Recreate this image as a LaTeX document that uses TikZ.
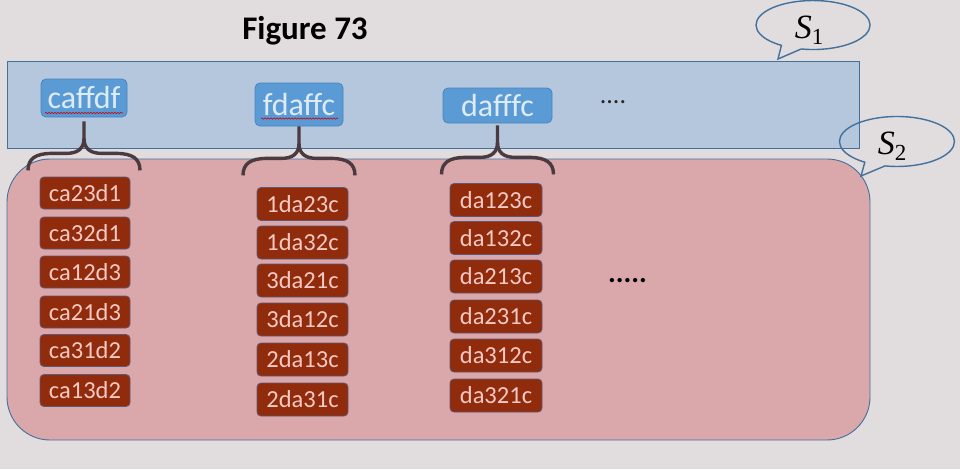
\documentclass[tikz,border=0pt]{standalone}
\usepackage{fontspec}
\setmainfont{Carlito}
\newfontfamily\labfont{Liberation Serif}
\usetikzlibrary{decorations.pathmorphing}
\definecolor{bg}{HTML}{E1DCDE}
\definecolor{setone}{HTML}{B4C7DC}
\definecolor{settwo}{HTML}{DAA8AA}
\definecolor{edgeblue}{HTML}{41719C}
\definecolor{boxblue}{HTML}{5B9BD5}
\definecolor{boxblueedge}{HTML}{4A84BD}
\definecolor{txtblue}{HTML}{DDEBF7}
\definecolor{boxred}{HTML}{902B0B}
\definecolor{boxrededge}{HTML}{5E5878}
\definecolor{txtred}{HTML}{F6C9C5}
\definecolor{bracecol}{HTML}{4B3A3F}
\newcommand{\setlab}[1]{{\labfont\fontsize{34}{38}\selectfont\itshape S\/}{\labfont\fontsize{23}{26}\selectfont\raisebox{-6pt}{#1}}}
\tikzset{
  bluebox/.style={draw=boxblueedge, line width=0.8pt, fill=boxblue, rounded corners=5pt,
    inner sep=0pt, text=txtblue, font=\fontsize{32}{36}\selectfont},
  redbox/.style={draw=boxrededge, line width=0.8pt, fill=boxred, rounded corners=4pt,
    inner sep=0pt, text=txtred, font=\fontsize{24.5}{28}\selectfont},
  spell/.style={draw=red!80!black, line width=0.6pt, decorate,
    decoration={snake, segment length=3pt, amplitude=0.7pt}},
  calloutline/.style={draw=edgeblue, line width=1.4pt},
  curly/.pic={
    \draw[bracecol, line width=3.4pt]
      (-56,49) .. controls (-56,37) and (-48,32) .. (-32,32) -- (-18,32)
      .. controls (-6,32) and (0,27) .. (0,17) -- (0,0);
    \draw[bracecol, line width=3.4pt]
      (0,17) .. controls (0,27) and (6,32) .. (18,32) -- (32,32)
      .. controls (48,32) and (56,37) .. (56,49);
  }
}
\begin{document}
\begin{tikzpicture}[x=1pt,y=-1pt]
\useasboundingbox (0,0) rectangle (960,469);
\fill[bg] (0,0) rectangle (960,469);

% title
\node[font=\fontsize{33}{38}\selectfont\bfseries, text=black] (title) at (305,31) {Figure 73};

% set S1 and S2 regions
\draw[draw=edgeblue, line width=0.9pt, fill=setone] (7,61) rectangle (859,148);
\draw[draw=edgeblue, line width=0.9pt, fill=settwo, rounded corners=43pt] (7,159) rectangle (870,440);

% blue boxes
\node[bluebox, minimum width=86pt, minimum height=38pt] (caffdf) at (84,98) {caffdf};
\node[bluebox, minimum width=88pt, minimum height=43pt] (fdaffc) at (299,104.5) {fdaffc};
\node[bluebox, minimum width=109pt, minimum height=35pt] (dafffc) at (497.5,105.5) {dafffc};
\draw[spell] (45,113) -- (123,113);
\draw[spell] (261,118.5) -- (338,118.5);
\node[text=black!85, font=\fontsize{26}{30}\selectfont] (dotsone) at (613,102) {....};

% red boxes column 1
\foreach \t/\y [count=\i] in {ca23d1/193, ca32d1/233, ca12d3/272, ca21d3/312, ca31d2/350.5, ca13d2/390.5}
  \node[redbox, minimum width=90pt, minimum height=32pt] (a\i) at (85,\y) {\t};
% column 2
\foreach \t/\y [count=\i] in {1da23c/204, 1da32c/242.5, 3da21c/280.5, 3da12c/319.5, 2da13c/359.5, 2da31c/399.5}
  \node[redbox, minimum width=91pt, minimum height=33pt] (b\i) at (302.5,\y) {\t};
% column 3
\foreach \t/\y [count=\i] in {da123c/200, da132c/238, da213c/276.5, da231c/316.5, da312c/355.5, da321c/395.5}
  \node[redbox, minimum width=92pt, minimum height=33pt] (c\i) at (496,\y) {\t};
\node[text=black, font=\fontsize{29}{32}\selectfont\bfseries] (dotstwo) at (627.5,281) {.....};

% braces from each blue box to its group
\pic at ([yshift=-4pt]caffdf.south) {curly};
\pic at (fdaffc.south) {curly};
\pic at ([yshift=-2pt]dafffc.south) {curly};

% callouts
\draw[calloutline] (781.4,45.4) arc[start angle=123.7, end angle=462, x radius=57, y radius=24.5] -- (778,59) -- cycle;
\node (labone) at (809,30) {\setlab{1}};
\draw[calloutline] (864.8,162.2) arc[start angle=124, end angle=462, x radius=57.5, y radius=25] -- (861,176) -- cycle;
\node (labtwo) at (892,146) {\setlab{2}};
\end{tikzpicture}
\end{document}
